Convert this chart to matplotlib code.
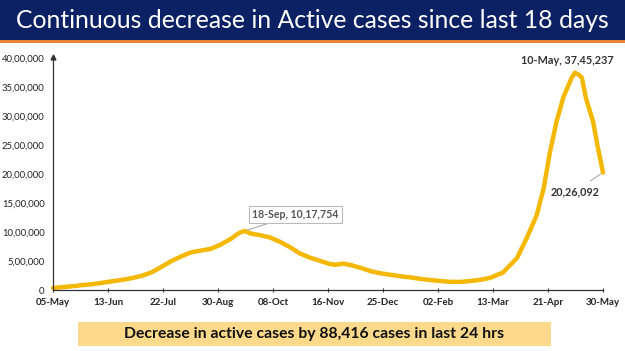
import matplotlib
matplotlib.use('Agg')
import matplotlib.pyplot as plt
from matplotlib.patches import Rectangle
import numpy as np
import pandas as pd

plt.rcParams['font.family'] = ['Lato', 'DejaVu Sans']

# active cases (lakh)
dates = ['2020-05-05', '2020-05-12', '2020-05-19', '2020-05-26', '2020-06-02',
         '2020-06-09', '2020-06-16', '2020-06-23', '2020-06-30', '2020-07-07',
         '2020-07-14', '2020-07-21', '2020-07-28', '2020-08-04', '2020-08-11',
         '2020-08-18', '2020-08-25', '2020-09-01', '2020-09-08', '2020-09-14',
         '2020-09-18', '2020-09-22', '2020-09-29', '2020-10-06', '2020-10-13',
         '2020-10-20', '2020-10-27', '2020-11-03', '2020-11-10', '2020-11-17',
         '2020-11-21', '2020-11-27', '2020-12-03', '2020-12-10', '2020-12-17',
         '2020-12-24', '2020-12-31', '2021-01-07', '2021-01-14', '2021-01-21',
         '2021-01-28', '2021-02-04', '2021-02-11', '2021-02-18', '2021-02-25',
         '2021-03-04', '2021-03-11', '2021-03-20', '2021-03-30', '2021-04-06',
         '2021-04-13', '2021-04-18', '2021-04-22', '2021-04-27', '2021-05-02',
         '2021-05-05', '2021-05-08', '2021-05-10', '2021-05-13', '2021-05-15',
         '2021-05-18', '2021-05-23', '2021-05-26', '2021-05-30']
active_lakh = [0.35, 0.50, 0.65, 0.85, 1.00,
               1.25, 1.50, 1.75, 2.05, 2.45,
               3.05, 4.00, 5.00, 5.80, 6.50,
               6.80, 7.10, 7.85, 8.80, 9.85,
               10.17754, 9.75, 9.45, 9.05, 8.30,
               7.40, 6.30, 5.60, 5.05, 4.50,
               4.35, 4.55, 4.25, 3.75, 3.20,
               2.85, 2.60, 2.35, 2.15, 1.90,
               1.70, 1.55, 1.40, 1.40, 1.55,
               1.75, 2.10, 3.00, 5.50, 9.00,
               12.90, 17.60, 23.30, 29.00, 33.30,
               35.00, 36.70, 37.45237, 37.10, 36.60,
               33.00, 29.00, 25.00, 20.26092]

x_labels = ['05-May', '13-Jun', '22-Jul', '30-Aug', '08-Oct', '16-Nov',
            '25-Dec', '02-Feb', '13-Mar', '21-Apr', '30-May']
y_ticks = [0, 500000, 1000000, 1500000, 2000000, 2500000, 3000000, 3500000, 4000000]

x = pd.to_datetime(dates)
y = np.round(np.array(active_lakh) * 100000)


def indian(n):
    s = str(int(round(n)))
    if len(s) <= 3:
        return s
    head, tail = s[:-3], s[-3:]
    parts = []
    while len(head) > 2:
        parts.insert(0, head[-2:])
        head = head[:-2]
    parts.insert(0, head)
    return ','.join(parts) + ',' + tail


fig = plt.figure(figsize=(6.25, 3.51), dpi=100)
W, H = 625, 351

# title bar
fig.patches.append(Rectangle((0, 1 - 40 / H), 1, 40 / H, transform=fig.transFigure,
                             facecolor='#0c2164', edgecolor='none'))
fig.patches.append(Rectangle((0, 1 - 43 / H), 1, 3 / H, transform=fig.transFigure,
                             facecolor='#e8803a', edgecolor='none'))
fig.text(0.5, 1 - 21 / H, 'Continuous decrease in Active cases since last 18 days',
         color='white', fontsize=17.8, ha='center', va='center')

ax = fig.add_axes([53 / W, 1 - 290 / H, 550 / W, 232 / H])
ax.plot(x, y, color='#f4b800', lw=3.2, solid_capstyle='round', solid_joinstyle='round',
        clip_on=False)

start = pd.Timestamp('2020-05-05')
tick_dates = [start + pd.Timedelta(days=39 * i) for i in range(len(x_labels))]
ax.set_xlim(tick_dates[0], tick_dates[-1])
ax.set_xticks(tick_dates)
ax.set_xticklabels(x_labels, fontsize=7, fontweight='bold', color='#222222')
ax.set_ylim(0, 4000000)
ax.set_yticks(y_ticks)
ax.set_yticklabels([indian(v) for v in y_ticks], fontsize=6.8, color='#222222')

for s in ['top', 'right']:
    ax.spines[s].set_visible(False)
ax.spines['left'].set_color('#333333')
ax.spines['bottom'].set_color('#333333')
ax.spines['left'].set_linewidth(0.9)
ax.spines['bottom'].set_linewidth(0.9)
ax.tick_params(axis='y', length=0, pad=6)
ax.tick_params(axis='x', length=3, direction='inout', color='#333333', pad=4)
ax.plot([0], [1.005], marker='^', color='#333333', markersize=3.5,
        transform=ax.transAxes, clip_on=False)

# annotations
i_sep = dates.index('2020-09-18')
ax.annotate('18-Sep, ' + indian(y[i_sep]), xy=(x[i_sep], y[i_sep]),
            xytext=(x[i_sep] + pd.Timedelta(days=36), 1300000),
            fontsize=7.6, fontweight='bold', color='#555555', ha='center', va='center',
            bbox=dict(boxstyle='square,pad=0.3', fc='white', ec='#bbbbbb', lw=0.8),
            arrowprops=dict(arrowstyle='-', color='#aaaaaa', lw=0.8, shrinkA=0, shrinkB=2))

i_peak = int(np.argmax(y))
ax.annotate('10-May, ' + indian(y[i_peak]), xy=(x[i_peak], y[i_peak]),
            xytext=(x[i_peak] - pd.Timedelta(days=5), 3950000),
            fontsize=7.8, fontweight='bold', color='#333333', ha='center', va='center')

ax.annotate(indian(y[-1]), xy=(x[-1], y[-1]),
            xytext=(x[-1] - pd.Timedelta(days=20), 1700000),
            fontsize=7.8, fontweight='bold', color='#333333', ha='center', va='center',
            arrowprops=dict(arrowstyle='-', color='#aaaaaa', lw=0.8, shrinkA=3, shrinkB=2))

# bottom banner
fig.patches.append(Rectangle((78 / W, 1 - 346 / H), 473 / W, 24 / H, transform=fig.transFigure,
                             facecolor='#fcd98b', edgecolor='none'))
fig.text(314 / W, 1 - 334 / H, 'Decrease in active cases by 88,416 cases in last 24 hrs',
         fontsize=11.3, fontweight='bold', color='#111111', ha='center', va='center')

fig.savefig('out.png', dpi=100, facecolor='white')
